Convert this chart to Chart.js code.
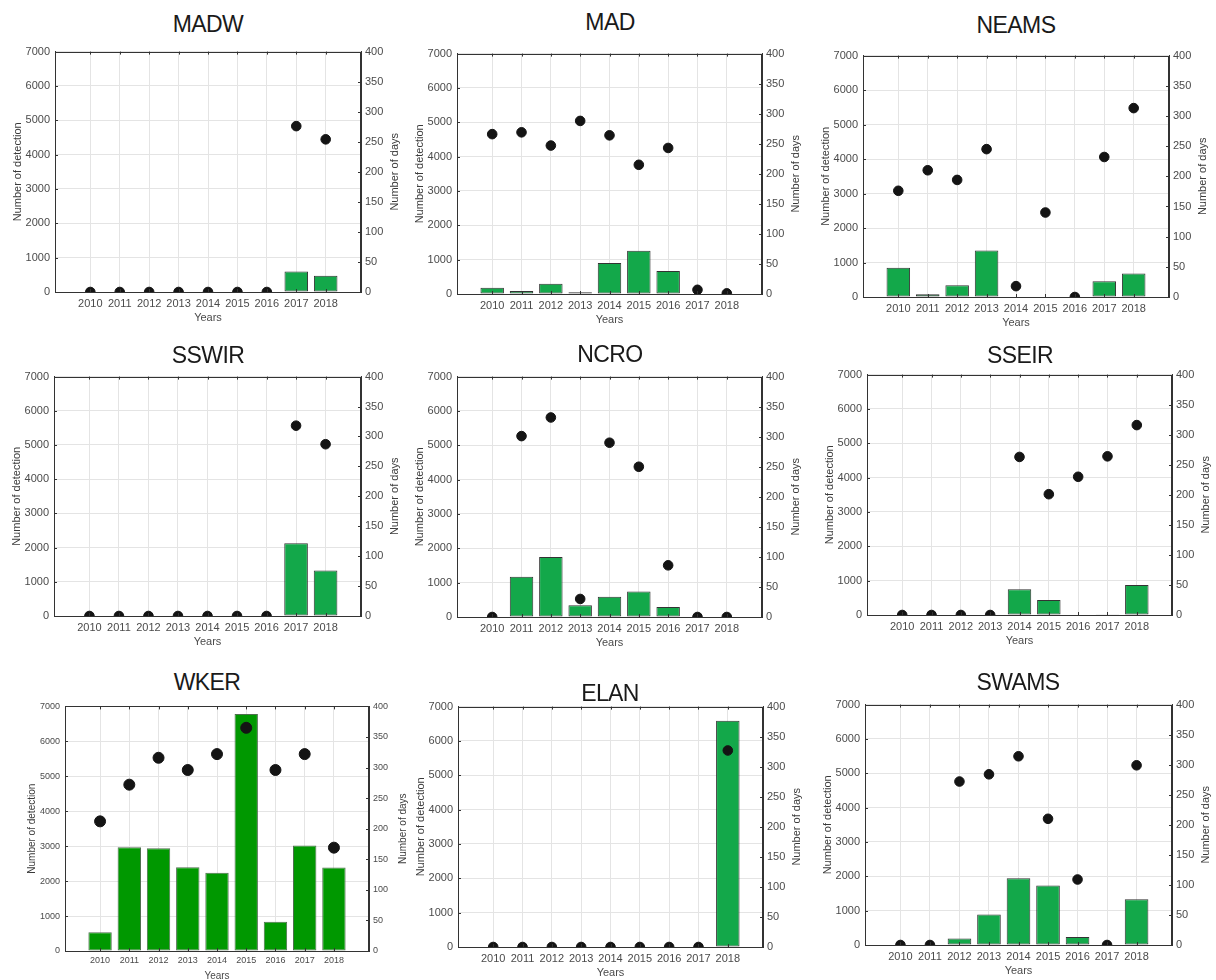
<!DOCTYPE html>
<html>
<head>
<meta charset="utf-8">
<script src="https://cdn.jsdelivr.net/npm/chart.js@4.4.1/dist/chart.umd.min.js"></script>
<style>
  body { margin: 0; background: #fff; width: 1216px; height: 980px; position: relative; overflow: hidden;
         font-family: "Liberation Sans", Arial, sans-serif; }
  .panel { position: absolute; }
  .title { position: absolute; transform: translate(-50%, -50%); font-size: 23px; color: #1a1a1a;
           white-space: nowrap; letter-spacing: -0.6px; }
</style>
</head>
<body>
<script>
"use strict"

// Years on the x axis
const years = [2010, 2011, 2012, 2013, 2014, 2015, 2016, 2017, 2018];
const sites = ['MADW', 'MAD', 'NEAMS', 'SSWIR', 'NCRO', 'SSEIR', 'WKER', 'ELAN', 'SWAMS'];
const detectionTicks = [0, 1000, 2000, 3000, 4000, 5000, 6000, 7000];
const dayTicks = [0, 50, 100, 150, 200, 250, 300, 350, 400];

// Number of detection (bars, left axis) and number of days (dots, right axis)
const madwDetections  = [0, 0, 0, 0, 0, 0, 0, 600, 470];
const madwDays        = [0, 0, 0, 0, 0, 0, 0, 276, 254];
const madDetections   = [180, 90, 300, 50, 900, 1260, 670, 0, 0];
const madDays         = [266, 269, 247, 288, 264, 215, 243, 7, 1];
const neamsDetections = [850, 80, 340, 1350, 0, 0, 0, 460, 680];
const neamsDays       = [176, 210, 194, 245, 18, 140, 0, 232, 313];
const sswirDetections = [0, 0, 0, 0, 0, 0, 0, 2130, 1330];
const sswirDays       = [0, 0, 0, 0, 0, 0, 0, 318, 287];
const ncroDetections  = [0, 1170, 1750, 340, 590, 740, 290, 0, 0];
const ncroDays        = [0, 301, 332, 30, 290, 250, 86, 0, 0];
const sseirDetections = [0, 0, 0, 0, 750, 440, 0, 10, 870];
const sseirDays       = [0, 0, 0, 0, 263, 201, 230, 264, 316];
const wkerDetections  = [540, 2970, 2940, 2400, 2240, 6780, 840, 3020, 2390];
const wkerDays        = [212, 272, 316, 296, 322, 365, 296, 322, 169];
const elanDetections  = [0, 0, 0, 0, 0, 0, 0, 0, 6590];
const elanDays        = [0, 0, 0, 0, 0, 0, 0, 0, 327];
const swamsDetections = [0, 0, 190, 890, 1940, 1730, 230, 0, 1330];
const swamsDays       = [0, 0, 272, 284, 314, 210, 109, 0, 299];

const detections = [madwDetections, madDetections, neamsDetections, sswirDetections, ncroDetections,
                    sseirDetections, wkerDetections, elanDetections, swamsDetections];
const days = [madwDays, madDays, neamsDays, sswirDays, ncroDays, sseirDays, wkerDays, elanDays, swamsDays];

// Plot area of each panel on the page and title position
const layout = [
  {l: 55,  t: 50,  r: 361,  b: 292, tx: 208,  ty: 24},
  {l: 457, t: 52,  r: 762,  b: 294, tx: 610,  ty: 22},
  {l: 863, t: 54,  r: 1169, b: 297, tx: 1016, ty: 25},
  {l: 54,  t: 375, r: 361,  b: 616, tx: 208,  ty: 355},
  {l: 457, t: 375, r: 762,  b: 617, tx: 610,  ty: 354},
  {l: 867, t: 373, r: 1172, b: 615, tx: 1020, ty: 355},
  {l: 65,  t: 706, r: 369,  b: 951, tx: 207,  ty: 682, small: true},
  {l: 458, t: 705, r: 763,  b: 947, tx: 610,  ty: 693},
  {l: 865, t: 703, r: 1172, b: 945, tx: 1018, ty: 682}
];

// Dots sitting on zero are cut by the axis, like in the original
const clipPlugin = {
  id: 'clipDots',
  beforeDatasetDraw(chart, args) {
    const a = chart.chartArea;
    chart.ctx.save();
    chart.ctx.beginPath();
    chart.ctx.rect(a.left - 10, a.top - 10, a.right - a.left + 20, a.bottom - a.top + 10);
    chart.ctx.clip();
  },
  afterDatasetDraw(chart) {
    chart.ctx.restore();
  }
};

// Draws the MATLAB-like box, inward tick marks and the right axis title (bottom-to-top)
const boxPlugin = {
  id: 'box',
  afterDraw(chart, args, opts) {
    const {ctx, chartArea: a, scales} = chart;
    ctx.save();
    ctx.strokeStyle = '#333';
    ctx.lineWidth = 1;
    ctx.strokeRect(Math.round(a.left) + 0.5, Math.round(a.top) + 0.5,
                   Math.round(a.right - a.left) - 1, Math.round(a.bottom - a.top));
    ctx.beginPath();
    years.forEach(v => {
      const px = Math.round(scales.x.getPixelForValue(v)) + 0.5;
      ctx.moveTo(px, a.bottom); ctx.lineTo(px, a.bottom - 3);
      ctx.moveTo(px, a.top); ctx.lineTo(px, a.top + 3);
    });
    detectionTicks.forEach(v => {
      const py = Math.round(scales.y.getPixelForValue(v)) + 0.5;
      ctx.moveTo(a.left, py); ctx.lineTo(a.left + 3, py);
    });
    dayTicks.forEach(v => {
      const py = Math.round(scales.y2.getPixelForValue(v)) + 0.5;
      ctx.moveTo(a.right, py); ctx.lineTo(a.right - 3, py);
    });
    ctx.stroke();

    ctx.translate(a.right + opts.offset, (a.top + a.bottom) / 2);
    ctx.rotate(-Math.PI / 2);
    ctx.font = opts.size + 'px "Liberation Sans", Arial, sans-serif';
    ctx.fillStyle = '#3a3a3a';
    ctx.textAlign = 'center';
    ctx.textBaseline = 'middle';
    ctx.fillText('Number of days', 0, 0);
    ctx.restore();
  }
};

function makeChart(i) {
  const L = layout[i];
  const small = !!L.small;
  const padL = 55, padR = 48, padT = 10, padB = small ? 32 : 34;
  const w = (L.r - L.l) + padL + padR;
  const h = (L.b - L.t) + padT + padB;

  const div = document.createElement('div');
  div.className = 'panel';
  div.style.left = (L.l - padL) + 'px';
  div.style.top = (L.t - padT) + 'px';
  const cv = document.createElement('canvas');
  cv.width = w; cv.height = h;
  cv.style.width = w + 'px'; cv.style.height = h + 'px';
  div.appendChild(cv);
  document.body.appendChild(div);

  const t = document.createElement('div');
  t.className = 'title';
  t.style.left = L.tx + 'px';
  t.style.top = L.ty + 'px';
  t.textContent = sites[i];
  document.body.appendChild(t);

  const tickFont = {family: '"Liberation Sans", Arial, sans-serif', size: small ? 9 : 11};
  const labelFont = {family: '"Liberation Sans", Arial, sans-serif', size: small ? 10 : 11};
  const tickColor = '#4a4a4a';

  new Chart(cv, {
    type: 'bar',
    data: {
      datasets: [
        {
          type: 'line',
          label: 'Number of days',
          data: years.map((y, k) => ({x: y, y: days[i][k]})),
          yAxisID: 'y2',
          showLine: false,
          pointRadius: small ? 5.5 : 4.8,
          pointBackgroundColor: '#141414',
          pointBorderColor: '#141414',
          order: 0
        },
        {
          label: 'Number of detection',
          data: years.map((y, k) => ({x: y, y: detections[i][k]})),
          yAxisID: 'y',
          backgroundColor: small ? '#009800' : '#13a84a',
          borderColor: small ? '#4f6f4f' : '#333',
          borderWidth: 1,
          borderSkipped: false,
          barPercentage: 1,
          categoryPercentage: 0.8,
          order: 1
        }
      ]
    },
    options: {
      responsive: false,
      animation: false,
      layout: {padding: {top: padT, left: 0, right: 0, bottom: 0}},
      plugins: {
        legend: {display: false},
        tooltip: {enabled: false},
        box: {offset: 34, size: small ? 10 : 11}
      },
      scales: {
        x: {
          type: 'linear',
          min: 2008.8,
          max: 2019.2,
          offset: false,
          afterBuildTicks: s => { s.ticks = years.map(v => ({value: v})); },
          afterFit: s => { s.height = padB; },
          grid: {color: '#e4e4e4', drawTicks: false, offset: false},
          border: {color: '#333'},
          ticks: {padding: small ? 4 : 5, color: tickColor, font: tickFont, maxRotation: 0, callback: v => String(v)},
          title: {display: true, text: 'Years', color: tickColor, font: labelFont, padding: {top: 0, bottom: 1}}
        },
        y: {
          position: 'left',
          min: 0,
          max: 7000,
          afterBuildTicks: s => { s.ticks = detectionTicks.map(v => ({value: v})); },
          afterFit: s => { s.width = padL; },
          grid: {color: '#e4e4e4', drawTicks: false},
          border: {color: '#333'},
          ticks: {padding: 5, color: tickColor, font: tickFont, callback: v => String(v)},
          title: {display: true, text: 'Number of detection', color: '#3a3a3a', font: labelFont,
                  padding: {top: small ? 16 : 11, bottom: 0}}
        },
        y2: {
          position: 'right',
          min: 0,
          max: 400,
          afterBuildTicks: s => { s.ticks = dayTicks.map(v => ({value: v})); },
          afterFit: s => { s.width = padR; },
          grid: {drawOnChartArea: false, drawTicks: false},
          border: {color: '#333'},
          ticks: {padding: 4, color: tickColor, font: tickFont, callback: v => String(v)}
        }
      }
    },
    plugins: [clipPlugin, boxPlugin]
  });
}

sites.forEach((s, i) => makeChart(i));
</script>
</body>
</html>
